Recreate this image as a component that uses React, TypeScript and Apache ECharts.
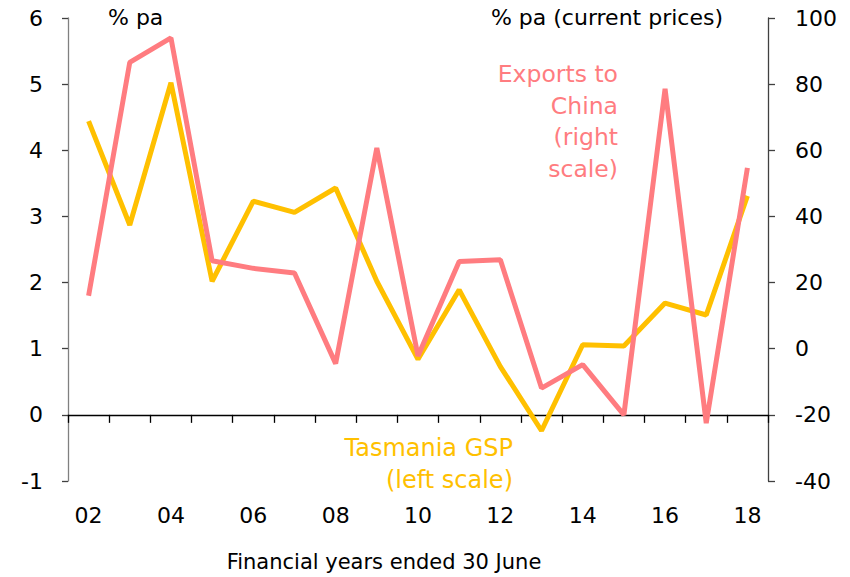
import React, { useEffect, useRef } from "react";
import * as echarts from "echarts";

const years = ["02","03","04","05","06","07","08","09","10","11","12","13","14","15","16","17","18"];
const tasmaniaGSP = [4.44, 2.87, 5.02, 2.02, 3.23, 3.06, 3.43, 2.02, 0.84, 1.89, 0.73, -0.24, 1.06, 1.04, 1.69, 1.51, 3.31];
const exportsToChina = [16.0, 86.6, 94.0, 26.6, 24.3, 22.9, -4.5, 60.7, -2.2, 26.4, 26.9, -11.9, -4.8, -20.0, 78.6, -22.5, 54.7];
const leftTicks = { min: -1, max: 6, interval: 1 };
const rightTicks = { min: -40, max: 100, interval: 20 };
const exportsLabel = ["Exports to", "China", "(right", "scale)"];
const gspLabel = ["Tasmania GSP", "(left scale)"];

const FONT = "'DejaVu Sans', 'Noto Sans', sans-serif";
const YELLOW = "#FFC000";
const PINK = "#FF7C80";

export default function App() {
  const ref = useRef<HTMLDivElement>(null);
  useEffect(() => {
    if (!ref.current) return;
    const chart = echarts.init(ref.current, null, { renderer: "svg" });
    const lineText = (lines: string[], x: number, y0: number, lh: number, color: string, size: number) =>
      lines.map((t, i) => ({
        type: "text",
        x,
        y: y0 + i * lh,
        style: { text: t, fontSize: size, fill: color, fontFamily: FONT, align: "right", textAlign: "right", verticalAlign: "middle" },
      }));
    chart.setOption({
      animation: false,
      backgroundColor: "#ffffff",
      textStyle: { fontFamily: FONT },
      grid: { left: 68, right: 82, top: 18, bottom: 96, containLabel: false },
      xAxis: {
        type: "category",
        data: years,
        boundaryGap: true,
        axisLine: { show: true, onZero: true, onZeroAxisIndex: 0, lineStyle: { color: "#000", width: 1.3 } },
        axisTick: { show: true, interval: 0, length: 8, inside: false, lineStyle: { color: "#000", width: 1.3 } },
        axisLabel: { interval: 1, margin: 23, fontSize: 22, color: "#000", fontFamily: FONT },
        splitLine: { show: false },
      },
      yAxis: [
        {
          type: "value",
          position: "left",
          min: leftTicks.min,
          max: leftTicks.max,
          interval: leftTicks.interval,
          axisLine: { show: true, lineStyle: { color: "#808080", width: 1.3 } },
          axisTick: { show: true, length: 6, lineStyle: { color: "#404040", width: 1.3 } },
          axisLabel: { margin: 25, fontSize: 22, color: "#000", fontFamily: FONT },
          splitLine: { show: false },
        },
        {
          type: "value",
          position: "right",
          min: rightTicks.min,
          max: rightTicks.max,
          interval: rightTicks.interval,
          axisLine: { show: true, lineStyle: { color: "#404040", width: 1.3 } },
          axisTick: { show: true, length: 7, lineStyle: { color: "#404040", width: 1.3 } },
          axisLabel: { margin: 27, fontSize: 22, color: "#000", fontFamily: FONT },
          splitLine: { show: false },
        },
      ],
      series: [
        {
          name: "Tasmania GSP",
          type: "line",
          yAxisIndex: 0,
          data: tasmaniaGSP,
          symbol: "none",
          lineStyle: { color: YELLOW, width: 5 },
          z: 2,
        },
        {
          name: "Exports to China",
          type: "line",
          yAxisIndex: 1,
          data: exportsToChina,
          symbol: "none",
          lineStyle: { color: PINK, width: 5 },
          z: 3,
        },
      ],
      graphic: [
        { type: "text", x: 108, y: 17, style: { text: "% pa", fontSize: 22, fill: "#000", fontFamily: FONT, verticalAlign: "middle" } },
        { type: "text", x: 723, y: 17, style: { text: "% pa (current prices)", fontSize: 22, fill: "#000", fontFamily: FONT, align: "right", textAlign: "right", verticalAlign: "middle" } },
        ...lineText(exportsLabel, 618, 74, 31.7, PINK, 23.5),
        ...lineText(gspLabel, 513, 448, 32, YELLOW, 24),
        { type: "text", x: 384, y: 562, style: { text: "Financial years ended 30 June", fontSize: 21, fill: "#000", fontFamily: FONT, align: "center", textAlign: "center", verticalAlign: "middle" } },
      ],
    });
    return () => chart.dispose();
  }, []);
  return <div ref={ref} style={{ position: "absolute", left: 0, top: 0, width: 850, height: 577 }} />;
}
